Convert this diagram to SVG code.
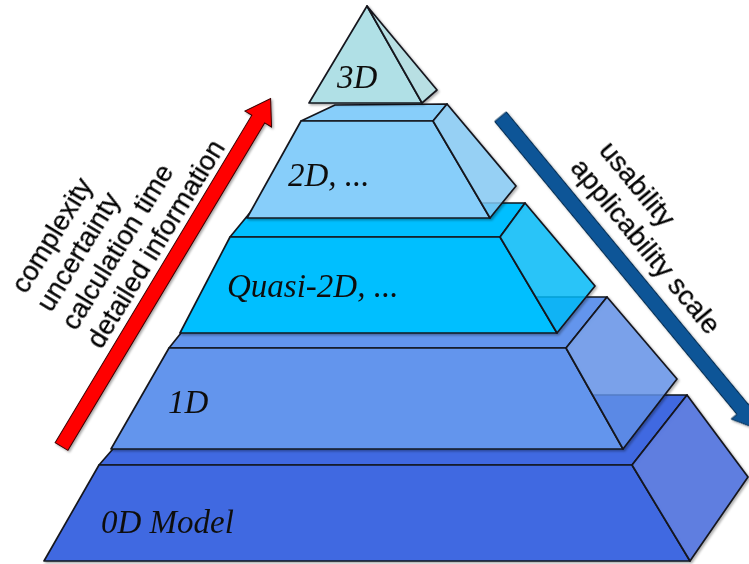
<svg xmlns="http://www.w3.org/2000/svg" width="749" height="564" viewBox="0 0 749 564">
  <defs>
    <style>
      .face { stroke: #15171f; stroke-width: 1.7; stroke-linejoin: round; }
      .side { fill-opacity: 0.78; }
      .c0 { fill: #4169E1; }
      .c1 { fill: #6495ED; }
      .cq { fill: #00BFFF; }
      .c2 { fill: #87CEFA; }
      .c3 { fill: #B0E0E6; }
      .lbl { font-family: "Liberation Serif", "Times New Roman", serif; font-style: italic; font-size: 33px; fill: #111; }
      .axis { font-family: "Liberation Sans", Arial, sans-serif; font-size: 28px; fill: #000; stroke: #000; stroke-width: 0.25; }
      .axis-up { font-size: 27.3px; }
    </style>
    <filter id="shade" x="-5%" y="-5%" width="115%" height="115%">
      <feDropShadow dx="1.5" dy="1.5" stdDeviation="1.2" flood-color="#000" flood-opacity="0.35"/>
    </filter>
  </defs>

  <rect width="749" height="564" fill="#ffffff"/>

  <!-- pyramid layers, drawn from the base upwards -->
  <g id="layer-0d" filter="url(#shade)">
    <polygon class="face c0" points="99,465 632,465 687,395 160,395"/>
    <polygon class="face c0" points="44,561 690,561 632,465 99,465"/>
    <polygon class="face c0 side" points="632,465 687,395 748,477 690,561"/>
    <text class="lbl" x="101" y="533">0D Model</text>
  </g>

  <g id="layer-1d" filter="url(#shade)">
    <polygon class="face c1" points="169,348 566,348 607,297 210,297"/>
    <polygon class="face c1" points="111,449 623,449 566,348 169,348"/>
    <polygon class="face c1 side" points="566,348 607,297 677,379 623,449"/>
    <text class="lbl" x="168" y="413">1D</text>
  </g>

  <g id="layer-quasi2d" filter="url(#shade)">
    <polygon class="face cq" points="230,237 500,237 525,203 258,203"/>
    <polygon class="face cq" points="180,333 557,333 500,237 230,237"/>
    <polygon class="face cq side" points="500,237 525,203 595,286 557,333"/>
    <text class="lbl" x="227" y="297">Quasi-2D, ...</text>
  </g>

  <g id="layer-2d" filter="url(#shade)">
    <polygon class="face c2" points="301,121 433,121 447,104 335,105"/>
    <polygon class="face c2" points="247,218 490,218 433,121 301,121"/>
    <polygon class="face c2 side" points="433,121 447,104 516,186 490,218"/>
    <text class="lbl" x="288" y="186">2D, ...</text>
  </g>

  <g id="layer-3d" filter="url(#shade)">
    <polygon class="face c3" points="367,6 309,103 422,103"/>
    <polygon class="face c3 side" points="367,6 437,90 422,103"/>
    <text class="lbl" x="337" y="88">3D</text>
  </g>

  <!-- trend arrows beside the pyramid -->
  <g id="connectors" filter="url(#shade)">
    <polygon id="arrow-up" fill="#ff0000" stroke="#3a0000" stroke-width="1" stroke-linejoin="miter"
             transform="translate(61.5,446.5) rotate(-59)"
             points="0,-7.5 382,-7.5 382,-15.5 406,0 382,15.5 382,7.5 0,7.5"/>
    <polygon id="arrow-down" fill="#0b5597" stroke="#062f55" stroke-width="1" stroke-linejoin="miter"
             transform="translate(500.5,116.7) rotate(50.4)"
             points="0,-7.5 380,-7.5 380,-15 406,0 380,15 380,7.5 0,7.5"/>
  </g>

  <g id="label-up" transform="translate(26,295) rotate(-58.5)">
    <text class="axis axis-up" x="0" y="0">complexity</text>
    <text class="axis axis-up" x="-2.6" y="31">uncertainty</text>
    <text class="axis axis-up" x="-5.2" y="62">calculation time</text>
    <text class="axis axis-up" x="-7.8" y="93">detailed information</text>
  </g>

  <g id="label-down" transform="translate(598,151) rotate(50.5)">
    <text class="axis" x="0" y="0">usability</text>
    <text class="axis" x="-5" y="33">applicability scale</text>
  </g>
</svg>
